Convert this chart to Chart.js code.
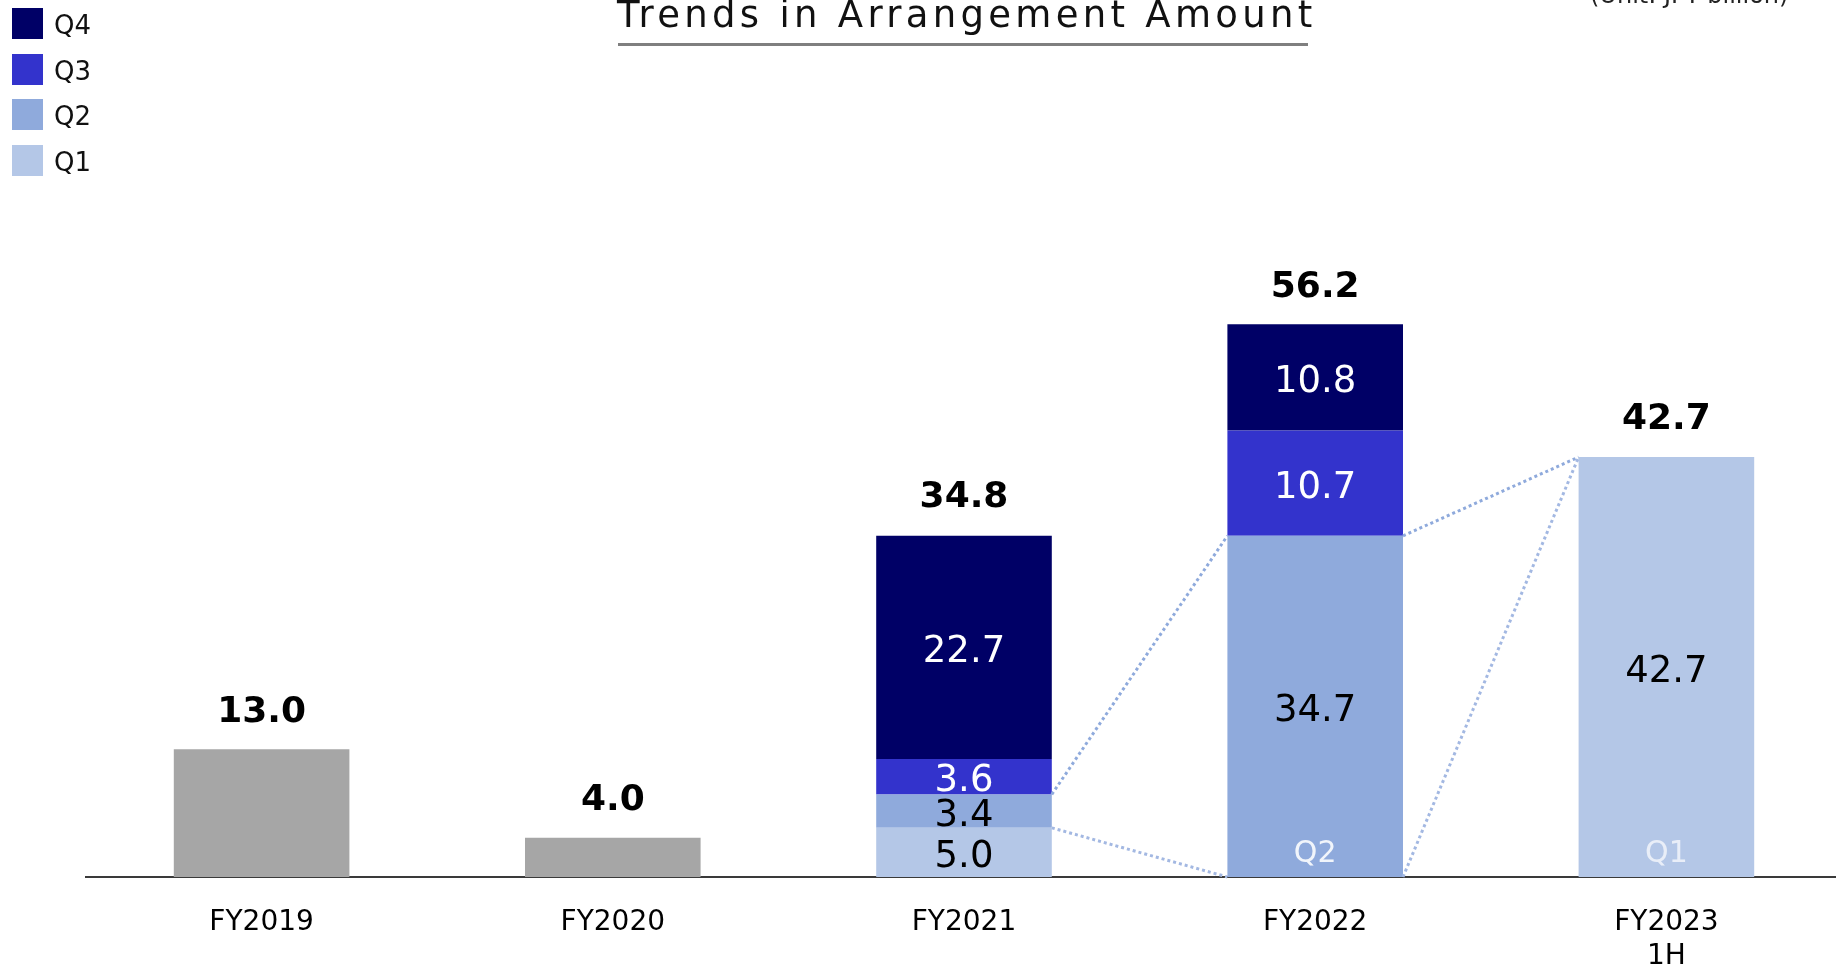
<!DOCTYPE html>
<html>
<head>
<meta charset="utf-8">
<script src="https://cdn.jsdelivr.net/npm/chart.js@4.4.0/dist/chart.umd.min.js"></script>
<style>
  html, body { margin: 0; padding: 0; background: #fff; overflow: hidden; }
  #wrap { position: relative; width: 1836px; height: 966px; overflow: hidden; font-family: "DejaVu Sans", Verdana, sans-serif; color: #111; }
  #chart { position: absolute; left: 0; top: 0; }
  #title { position: absolute; left: 617px; top: -4px; font-size: 37px; line-height: 37px; letter-spacing: 4.3px; white-space: nowrap; }
  #underline { position: absolute; left: 618px; top: 43px; width: 690px; height: 3px; background: #7f7f7f; }
  #unit { position: absolute; left: 1590px; top: -17px; font-size: 24px; line-height: 24px; white-space: nowrap; color: #222; }
  #legend { position: absolute; left: 12px; top: 8px; }
  .item { position: relative; height: 45.5px; }
  .box { position: absolute; left: 0; top: 0; width: 31px; height: 31px; }
  .txt { position: absolute; left: 42px; top: 4px; font-size: 26px; line-height: 26px; }
</style>
</head>
<body>
<div id="wrap">
  <canvas id="chart" width="1842" height="966"></canvas>
  <div id="title">Trends in Arrangement Amount</div>
  <div id="underline"></div>
  <div id="unit">(Unit: JPY billion)</div>
  <div id="legend"></div>
</div>
<script>
// datos del gráfico (JPY billion)
const categories = ['FY2019', 'FY2020', 'FY2021', 'FY2022', ['FY2023', '1H']];
const seriesNames = ['Q1', 'Q2', 'Q3', 'Q4'];
const fullYear = [13.0, 4.0, null, null, null];
const q1 = [null, null, 5.0, null, 42.7];
const q2 = [null, null, 3.4, 34.7, null];
const q3 = [null, null, 3.6, 10.7, null];
const q4 = [null, null, 22.7, 10.8, null];
const totals = [13.0, 4.0, 34.8, 56.2, 42.7];
const bottomTags = ['', '', '', 'Q2', 'Q1'];
// líneas punteadas: [índice origen, valor origen, índice destino, valor destino]
const connectors = [[2, 8.4, 3, 34.7], [2, 5.0, 3, 0], [3, 34.7, 4, 42.7], [3, 0, 4, 42.7]];

const FONT = '"DejaVu Sans", Verdana, sans-serif';
const colors = ['#B4C7E7', '#8FAADC', '#3333CC', '#000066'];
const textColors = ['#000', '#000', '#fff', '#fff'];
const grey = '#A6A6A6';

// leyenda (Q4 arriba)
const legend = document.getElementById('legend');
for (let i = seriesNames.length - 1; i >= 0; i--) {
  const row = document.createElement('div');
  row.className = 'item';
  row.innerHTML = '<div class="box" style="background:' + colors[i] + '"></div><div class="txt">' + seriesNames[i] + '</div>';
  legend.appendChild(row);
}

const labelPlugin = {
  id: 'barLabels',
  afterDatasetsDraw(chart) {
    const ctx = chart.ctx;
    const y = chart.scales.y;
    const ref = chart.getDatasetMeta(1).data;
    ctx.save();

    // conectores punteados
    ctx.lineWidth = 3;
    ctx.setLineDash([3, 3]);
    connectors.forEach(([a, va, b, vb], k) => {
      ctx.strokeStyle = (k % 2 === 0) ? '#8FAADC' : '#A3B8E2';
      ctx.beginPath();
      ctx.moveTo(ref[a].x + ref[a].width / 2, y.getPixelForValue(va));
      ctx.lineTo(ref[b].x - ref[b].width / 2, y.getPixelForValue(vb));
      ctx.stroke();
    });
    ctx.setLineDash([]);

    ctx.textAlign = 'center';
    ctx.textBaseline = 'middle';

    // valores dentro de cada segmento
    ctx.font = '37px ' + FONT;
    for (let d = 1; d <= 4; d++) {
      const meta = chart.getDatasetMeta(d);
      const data = chart.data.datasets[d].data;
      ctx.fillStyle = textColors[d - 1];
      meta.data.forEach((el, i) => {
        if (data[i] == null) return;
        ctx.fillText(data[i].toFixed(1), el.x, (el.y + el.base) / 2 + 5);
      });
    }

    // totales encima de cada barra
    ctx.font = 'bold 36px ' + FONT;
    ctx.fillStyle = '#000';
    totals.forEach((t, i) => {
      ctx.fillText(t.toFixed(1), ref[i].x, y.getPixelForValue(t) - 37);
    });

    // etiquetas Q2 / Q1 en la base
    ctx.font = '30px ' + FONT;
    bottomTags.forEach((tag, i) => {
      if (!tag) return;
      ctx.fillStyle = i === 3 ? 'rgba(255,255,255,0.88)' : 'rgba(255,255,255,0.7)';
      ctx.fillText(tag, ref[i].x, y.getPixelForValue(0) - 23);
    });
    ctx.restore();
  }
};

new Chart(document.getElementById('chart'), {
  type: 'bar',
  data: {
    labels: categories,
    datasets: [
      { label: 'FY', data: fullYear, backgroundColor: grey },
      { label: seriesNames[0], data: q1, backgroundColor: colors[0] },
      { label: seriesNames[1], data: q2, backgroundColor: colors[1] },
      { label: seriesNames[2], data: q3, backgroundColor: colors[2] },
      { label: seriesNames[3], data: q4, backgroundColor: colors[3] }
    ]
  },
  options: {
    responsive: false,
    animation: false,
    layout: { padding: { left: 86, right: 0, top: 287, bottom: 0 } },
    datasets: { bar: { barPercentage: 0.5, categoryPercentage: 1.0 } },
    plugins: { legend: { display: false }, tooltip: { enabled: false } },
    scales: {
      x: {
        stacked: true,
        grid: { display: false, drawTicks: false },
        border: { color: '#3a3a3a', width: 2 },
        ticks: { color: '#000', font: { family: FONT, size: 28 }, padding: 29, maxRotation: 0, autoSkip: false },
        afterFit(scale) { scale.height = 89; }
      },
      y: { stacked: true, display: false, min: 0, max: 60 }
    }
  },
  plugins: [labelPlugin]
});
</script>
</body>
</html>
